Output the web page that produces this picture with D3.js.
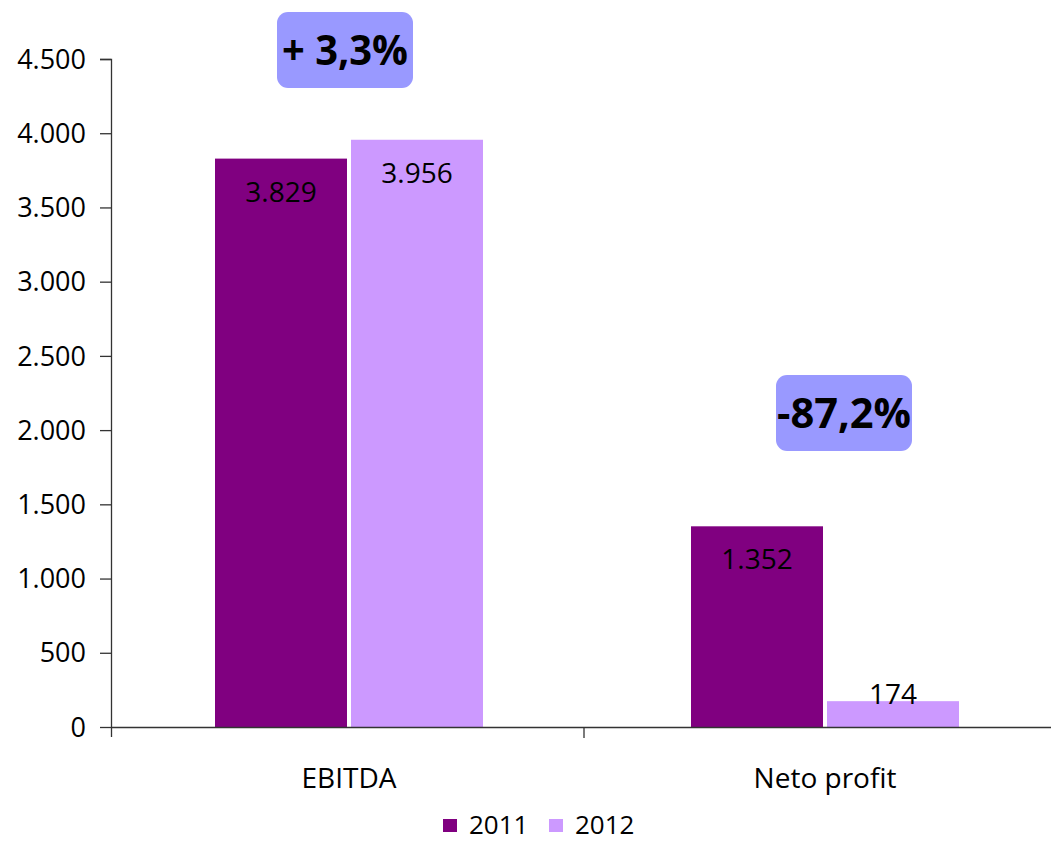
<!DOCTYPE html>
<html><head><meta charset="utf-8">
<script src="https://cdn.jsdelivr.net/npm/d3@7"></script>
<style>body{margin:0;background:#fff}svg{display:block}text{font-family:"Open Sans",sans-serif}</style>
</head><body>
<svg id="c" width="1051" height="841"></svg>
<script>
const categories = ["EBITDA", "Neto profit"];
const seriesNames = ["2011", "2012"];
const values2011 = [3829, 1352];
const values2012 = [3956, 174];
const valueLabels2011 = ["3.829", "1.352"];
const valueLabels2012 = ["3.956", "174"];
const changeLabels = ["+ 3,3%", "-87,2%"];
const yTicks = [0, 500, 1000, 1500, 2000, 2500, 3000, 3500, 4000, 4500];
const yTickLabels = ["0", "500", "1.000", "1.500", "2.000", "2.500", "3.000", "3.500", "4.000", "4.500"];
const colors = ["#800080", "#cc99ff"];

const svg = d3.select("#c");
const x0 = 111, x1 = 1063, yTop = 59, yBot = 727;
const x = d3.scaleBand().domain(categories).range([x0, x1]);
const y = d3.scaleLinear().domain([0, 4500]).range([yBot, yTop]);
const xs = d3.scaleBand().domain(seriesNames).range([-134, 134]).paddingInner(4 / 136);

// y axis
const yAxis = d3.axisLeft(y).tickValues(yTicks).tickSize(11).tickPadding(14)
  .tickFormat((d, i) => yTickLabels[i]);
const gy = svg.append("g").attr("transform", `translate(${x0},0)`).call(yAxis);
gy.select(".domain").attr("d", `M-11,${yTop}.5H0.5V${yBot + 10}`).attr("stroke", "#333").attr("stroke-width", 1.3);
gy.selectAll(".tick line").attr("stroke", "#333").attr("stroke-width", 1.3);
gy.selectAll(".tick text").attr("font-size", 27).attr("fill", "#000").attr("font-family", "Open Sans").attr("dy", "0.34em");

// bars
const allVals = [values2011, values2012];
const allLabels = [valueLabels2011, valueLabels2012];
seriesNames.forEach((s, si) => {
  const g = svg.append("g");
  categories.forEach((c, ci) => {
    const v = allVals[si][ci];
    const cx = x(c) + x.bandwidth() / 2;
    const bx = cx + xs(s);
    g.append("rect").attr("x", bx).attr("y", y(v)).attr("width", xs.bandwidth())
      .attr("height", yBot - y(v)).attr("fill", colors[si]);
    const h = yBot - y(v);
    const ly = h > 60 ? y(v) + 43 : y(v) + 3;
    g.append("text").attr("x", bx + xs.bandwidth() / 2).attr("y", ly)
      .attr("text-anchor", "middle").attr("font-size", 28).attr("fill", "#000")
      .text(allLabels[si][ci]);
  });
});

// x axis
const gx = svg.append("g").attr("transform", `translate(0,${yBot})`);
gx.append("path").attr("d", `M${x0},0.5H1051`).attr("stroke", "#333").attr("stroke-width", 1.5).attr("fill", "none");
gx.append("line").attr("x1", x(categories[1]) - 3).attr("x2", x(categories[1]) - 3).attr("y1", 0).attr("y2", 11)
  .attr("stroke", "#333").attr("stroke-width", 1.3);
categories.forEach(c => {
  svg.append("text").attr("x", x(c) + x.bandwidth() / 2).attr("y", 788)
    .attr("text-anchor", "middle").attr("font-size", 28).attr("fill", "#000").text(c);
});

// change annotations
const boxOffsets = [[-4, 50], [19, 413]];
categories.forEach((c, ci) => {
  const cx = x(c) + x.bandwidth() / 2 + boxOffsets[ci][0];
  const boxCy = boxOffsets[ci][1];
  const g = svg.append("g");
  g.append("rect").attr("x", cx - 68).attr("y", boxCy - 38).attr("width", 136).attr("height", 76)
    .attr("rx", 11).attr("fill", "#9999ff");
  g.append("text").attr("x", cx).attr("y", boxCy + 15).attr("text-anchor", "middle")
    .attr("font-size", 42).attr("font-weight", "bold").attr("fill", "#000")
    .attr("textLength", ci === 0 ? 126 : 134).attr("lengthAdjust", "spacingAndGlyphs")
    .text(changeLabels[ci]);
});

// legend
const leg = svg.append("g");
const legX = [443, 549];
seriesNames.forEach((s, si) => {
  leg.append("rect").attr("x", legX[si]).attr("y", 819).attr("width", 14).attr("height", 13).attr("fill", colors[si]);
  leg.append("text").attr("x", legX[si] + 26).attr("y", 834).attr("font-size", 26).attr("fill", "#000").text(s);
});
</script>
</body></html>
